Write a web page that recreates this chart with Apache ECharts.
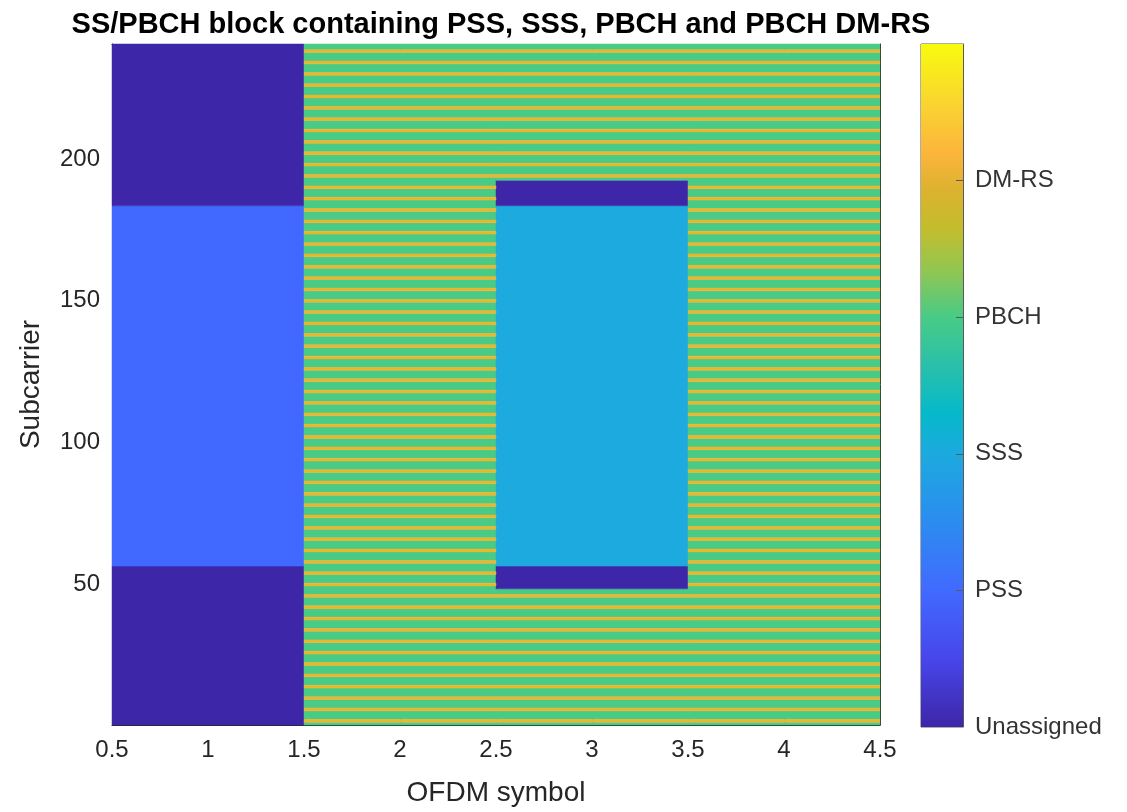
<!DOCTYPE html>
<html>
<head>
<meta charset="utf-8">
<script src="https://cdn.jsdelivr.net/npm/echarts@6/dist/echarts.min.js"></script>
<style>
  html, body { margin: 0; padding: 0; background: #ffffff; }
  #chart { width: 1127px; height: 812px; }
</style>
</head>
<body>
<div id="chart"></div>
<script>
// ---- data ----
const titleText = 'SS/PBCH block containing PSS, SSS, PBCH and PBCH DM-RS';
const symbols = [1, 2, 3, 4];
const subcarrierCount = 240;
const xTicks = [0.5, 1, 1.5, 2, 2.5, 3, 3.5, 4, 4.5];
const yTicks = [50, 100, 150, 200];
const classNames = ['Unassigned', 'PSS', 'SSS', 'PBCH', 'DM-RS'];
const classTicks = [0, 1, 2, 3, 4];
// [symbol, first subcarrier, last subcarrier, class index]
const regions = [
  [1, 1, 56, 0], [1, 57, 183, 1], [1, 184, 240, 0],
  [2, 1, 240, 3],
  [3, 1, 48, 3], [3, 49, 56, 0], [3, 57, 183, 2], [3, 184, 192, 0], [3, 193, 240, 3],
  [4, 1, 240, 3]
];
// PBCH DM-RS subcarriers (placed only where the grid holds PBCH)
const dmrsSubcarriers = [2, 6, 10, 14, 18, 22, 26, 30, 34, 38, 42, 46, 50, 54, 58, 62, 66, 70, 74, 78,
  82, 86, 90, 94, 98, 102, 106, 110, 114, 118, 122, 126, 130, 134, 138, 142, 146, 150, 154, 158,
  162, 166, 170, 174, 178, 182, 186, 190, 194, 198, 202, 206, 210, 214, 218, 222, 226, 230, 234, 238];

// ---- styles ----
const classColors = ['#3E26A8', '#4169FF', '#1CAADF', '#48CB86', '#EAB630'];
const parulaStops = [
  [0.00, '#3E26A8'], [0.10, '#4746EB'], [0.20, '#416AFF'], [0.30, '#2C8CF0'],
  [0.40, '#1CAADF'], [0.46, '#05B9CA'], [0.52, '#25BFAE'], [0.60, '#48CB86'],
  [0.67, '#93C650'], [0.73, '#C3BD2C'], [0.79, '#DEB230'], [0.84, '#FCB53C'],
  [0.91, '#F9D330'], [1.00, '#F9FB0E']
];
const textColor = '#262626';
const fontFamily = '"Liberation Sans", Arial, Helvetica, sans-serif';

// ---- build the resource grid ----
const grid = {};
symbols.forEach(s => { grid[s] = new Array(subcarrierCount + 1).fill(0); });
regions.forEach(([s, a, b, c]) => { for (let k = a; k <= b; k++) grid[s][k] = c; });
symbols.forEach(s => { dmrsSubcarriers.forEach(k => { if (grid[s][k] === 3) grid[s][k] = 4; }); });

// group into runs [symbol, start, end, class]
const baseRuns = [], dmrsRuns = [];
symbols.forEach(s => {
  let start = 1;
  for (let k = 2; k <= subcarrierCount + 1; k++) {
    if (k > subcarrierCount || grid[s][k] !== grid[s][start]) {
      const run = [s, start, k - 1, grid[s][start]];
      (run[3] === 4 ? dmrsRuns : baseRuns).push(run);
      start = k;
    }
  }
});
const cellRuns = baseRuns.concat(dmrsRuns);

function renderCell(params, api) {
  const sym = api.value(0), s0 = api.value(1), s1 = api.value(2), cls = api.value(3);
  const p0 = api.coord([sym - 0.5, s1 + 0.5]);
  const p1 = api.coord([sym + 0.5, s0 - 0.5]);
  const c = classColors[cls];
  return {
    type: 'rect',
    shape: { x: p0[0], y: p0[1], width: p1[0] - p0[0], height: p1[1] - p0[1] },
    style: { fill: c, stroke: c, lineWidth: 0.5 }
  };
}

function renderBar(params, api) {
  const p0 = api.coord([0, api.value(1)]);
  const p1 = api.coord([1, api.value(0)]);
  return {
    type: 'rect',
    shape: { x: p0[0], y: p0[1], width: p1[0] - p0[0], height: p1[1] - p0[1] },
    style: {
      fill: new echarts.graphic.LinearGradient(0, 1, 0, 0,
        parulaStops.map(([o, c]) => ({ offset: o, color: c })))
    }
  };
}

const axisLineStyle = { color: textColor, width: 1 };
const barLineStyle = { color: '#5a5a5a', width: 1 };
const labelStyle = { fontSize: 24, color: textColor, fontFamily: fontFamily };

const chart = echarts.init(document.getElementById('chart'), null, { renderer: 'canvas' });
chart.setOption({
  backgroundColor: '#ffffff',
  animation: false,
  title: {
    text: titleText,
    left: 496, top: 5, textAlign: 'center',
    textStyle: { fontSize: 29, fontWeight: 'bold', color: '#000000', fontFamily: fontFamily }
  },
  grid: [
    { left: 112, right: 247, top: 44, bottom: 85, show: false },
    { left: 921, width: 42, top: 44, bottom: 85, show: true, borderColor: '#5a5a5a', borderWidth: 1, backgroundColor: 'transparent' }
  ],
  xAxis: [
    {
      type: 'value', gridIndex: 0, position: 'bottom', min: 0.5, max: 4.5, interval: 0.5,
      axisLine: { show: true, onZero: false, lineStyle: axisLineStyle },
      axisTick: { show: true, inside: true, length: 7, lineStyle: axisLineStyle },
      axisLabel: Object.assign({ margin: 13, customValues: xTicks }, labelStyle),
      splitLine: { show: false },
      name: 'OFDM symbol', nameLocation: 'middle', nameGap: 54,
      nameTextStyle: { fontSize: 28, color: textColor, fontFamily: fontFamily }
    },
    {
      type: 'value', gridIndex: 0, position: 'top', min: 0.5, max: 4.5, interval: 0.5,
      axisLine: { show: true, onZero: false, lineStyle: axisLineStyle },
      axisTick: { show: true, inside: true, length: 7, lineStyle: axisLineStyle },
      axisLabel: { show: false }, splitLine: { show: false }
    },
    {
      type: 'value', gridIndex: 1, min: 0, max: 1, show: false
    }
  ],
  yAxis: [
    {
      type: 'value', gridIndex: 0, position: 'left', min: 0.5, max: subcarrierCount + 0.5,
      axisLine: { show: true, onZero: false, lineStyle: axisLineStyle },
      axisTick: { show: true, inside: true, length: 7, lineStyle: axisLineStyle, customValues: yTicks },
      axisLabel: Object.assign({ margin: 12, customValues: yTicks }, labelStyle),
      splitLine: { show: false },
      name: 'Subcarrier', nameLocation: 'middle', nameGap: 67, nameRotate: 90,
      nameTextStyle: { fontSize: 28, color: textColor, fontFamily: fontFamily }
    },
    {
      type: 'value', gridIndex: 0, position: 'right', min: 0.5, max: subcarrierCount + 0.5,
      axisLine: { show: true, onZero: false, lineStyle: axisLineStyle },
      axisTick: { show: true, inside: true, length: 7, lineStyle: axisLineStyle, customValues: yTicks },
      axisLabel: { show: false }, splitLine: { show: false }
    },
    {
      type: 'value', gridIndex: 1, position: 'right', min: 0, max: 5, interval: 1,
      axisLine: { show: true, onZero: false, lineStyle: barLineStyle },
      axisTick: { show: true, inside: true, length: 7, lineStyle: barLineStyle, customValues: classTicks.slice(1) },
      axisLabel: Object.assign({ margin: 12, customValues: classTicks, formatter: v => classNames[Math.round(v)] || '' }, labelStyle, { color: '#333333' }),
      splitLine: { show: false },
      z: 5
    }
  ],
  series: [
    {
      type: 'custom', xAxisIndex: 0, yAxisIndex: 0,
      renderItem: renderCell,
      data: cellRuns,
      encode: { x: 0, y: [1, 2] },
      z: 1
    },
    {
      type: 'custom', xAxisIndex: 2, yAxisIndex: 2,
      renderItem: renderBar,
      data: [[0, 5]],
      z: 1
    }
  ]
});
</script>
</body>
</html>
